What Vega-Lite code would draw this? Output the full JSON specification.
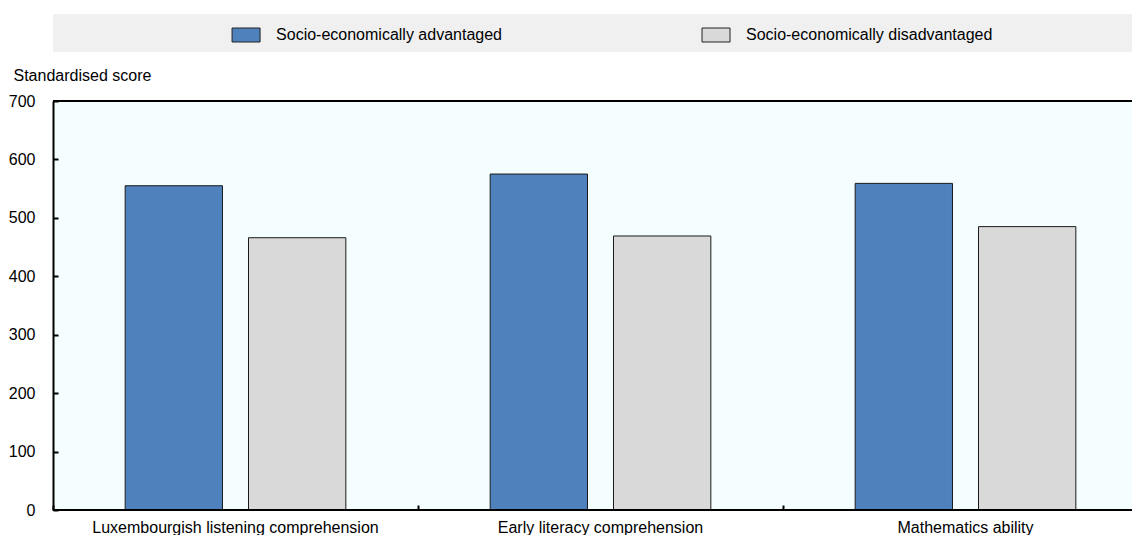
{
  "$schema": "https://vega.github.io/schema/vega-lite/v6.json",
  "padding": {"left": 8, "top": 14, "right": 0, "bottom": 0},
  "config": {
    "font": "Liberation Sans",
    "view": {"stroke": null},
    "text": {"font": "Liberation Sans"}
  },
  "datasets": {
    "scores": [
      {"category": "Luxembourgish listening comprehension", "group": "Socio-economically advantaged", "score": 555},
      {"category": "Luxembourgish listening comprehension", "group": "Socio-economically disadvantaged", "score": 466},
      {"category": "Early literacy comprehension", "group": "Socio-economically advantaged", "score": 575},
      {"category": "Early literacy comprehension", "group": "Socio-economically disadvantaged", "score": 469},
      {"category": "Mathematics ability", "group": "Socio-economically advantaged", "score": 559},
      {"category": "Mathematics ability", "group": "Socio-economically disadvantaged", "score": 485}
    ],
    "groups": [
      {"group": "Socio-economically advantaged"},
      {"group": "Socio-economically disadvantaged"}
    ]
  },
  "spacing": 49,
  "bounds": "flush",
  "vconcat": [
    {
      "width": 1079,
      "height": 38,
      "view": {"fill": "#f0f0f0", "stroke": null},
      "data": {"name": "groups"},
      "encoding": {
        "x": {
          "field": "group",
          "type": "nominal",
          "sort": null,
          "scale": {"type": "point", "padding": 0.648, "align": 0.317},
          "axis": null
        }
      },
      "layer": [
        {
          "mark": {
            "type": "point",
            "shape": "M-1,-0.5H1V0.5H-1Z",
            "size": 784,
            "filled": true,
            "opacity": 1,
            "stroke": "#222222",
            "strokeWidth": 1,
            "yOffset": 2
          },
          "encoding": {
            "color": {"field": "group", "type": "nominal", "sort": null, "legend": null}
          }
        },
        {
          "mark": {
            "type": "text",
            "align": "left",
            "baseline": "middle",
            "dx": 30,
            "dy": 2,
            "fontSize": 16,
            "color": "#000000"
          },
          "encoding": {"text": {"field": "group"}}
        }
      ]
    },
    {
      "width": 1079,
      "height": 409,
      "view": {"fill": "#f4fefe", "stroke": null},
      "data": {"name": "scores"},
      "layer": [
        {
          "mark": {"type": "bar", "stroke": "#1a1a1a", "strokeWidth": 1},
          "encoding": {
            "x": {
              "field": "category",
              "type": "nominal",
              "sort": null,
              "scale": {"range": [0, 1095], "paddingInner": 0, "paddingOuter": 0},
              "axis": {
                "title": null,
                "labelAngle": 0,
                "labelFontSize": 16,
                "labelColor": "#000000",
                "labelPadding": 14,
                "labelLimit": 500,
                "domain": false,
                "tickSize": -5,
                "tickWidth": 2,
                "tickColor": "#000000",
                "bandPosition": 0,
                "tickExtra": false
              }
            },
            "xOffset": {
              "field": "group",
              "type": "nominal",
              "sort": null,
              "scale": {"paddingInner": 0.211, "paddingOuter": 0.585}
            },
            "y": {
              "field": "score",
              "type": "quantitative",
              "title": "Standardised score",
              "scale": {"domain": [0, 700], "nice": false},
              "axis": {
                "values": [0, 100, 200, 300, 400, 500, 600, 700],
                "grid": false,
                "titleAngle": 0,
                "titleAlign": "left",
                "titleBaseline": "alphabetic",
                "titleX": -40,
                "titleY": -21,
                "titleFontSize": 16,
                "titleFontWeight": "normal",
                "titleColor": "#000000",
                "labelFontSize": 16,
                "labelColor": "#000000",
                "labelPadding": 23,
                "tickSize": -5,
                "tickWidth": 2,
                "tickColor": "#000000",
                "domainColor": "#000000",
                "domainWidth": 2
              }
            },
            "color": {
              "field": "group",
              "type": "nominal",
              "sort": null,
              "scale": {
                "domain": ["Socio-economically advantaged", "Socio-economically disadvantaged"],
                "range": ["#4f81bd", "#d9d9d9"]
              },
              "legend": null
            }
          }
        },
        {
          "transform": [{"aggregate": [{"op": "count", "as": "n"}]}],
          "mark": {"type": "rule", "color": "#000000", "strokeWidth": 2},
          "encoding": {"y": {"datum": 700}}
        },
        {
          "transform": [{"aggregate": [{"op": "count", "as": "n"}]}],
          "mark": {"type": "rule", "color": "#000000", "strokeWidth": 2},
          "encoding": {"y": {"datum": 0}}
        }
      ]
    }
  ]
}
